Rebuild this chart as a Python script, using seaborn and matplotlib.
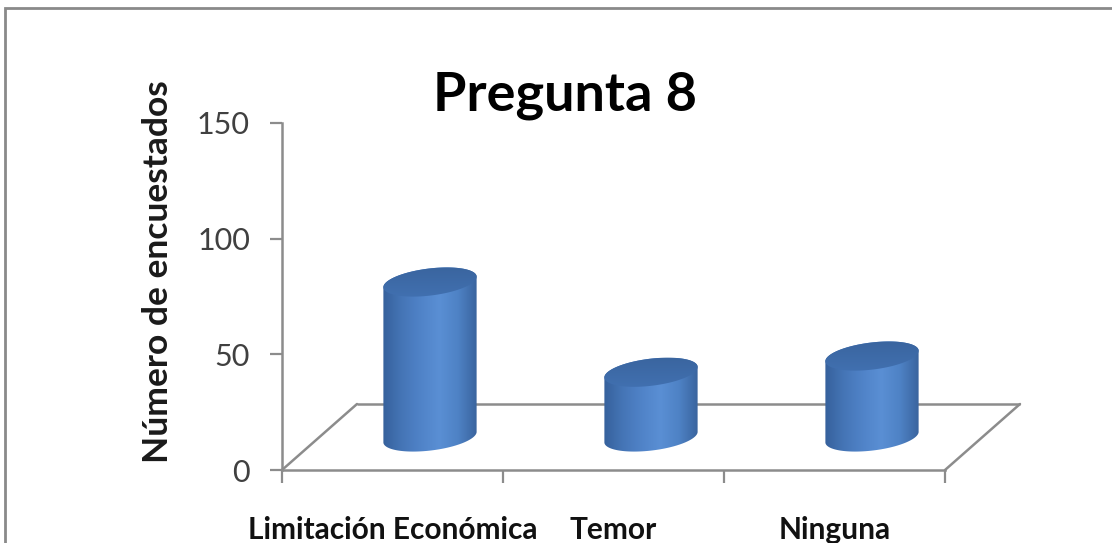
import numpy as np
import matplotlib
matplotlib.use("Agg")
import matplotlib.pyplot as plt
import seaborn as sns
from matplotlib import transforms as mtrans
from matplotlib.patches import PathPatch, Rectangle
from matplotlib.path import Path
from matplotlib.lines import Line2D
from matplotlib.colors import LinearSegmentedColormap

# Survey answers for question 8
categories = ["Limitación Económica", "Temor", "Ninguna"]
respondents = [67, 28, 35]
y_ticks = [0, 50, 100, 150]
title_text = "Pregunta 8"
y_label = "Número de encuestados"

sns.set_theme(style="white")
plt.rcParams["font.family"] = ["Lato", "DejaVu Sans"]

DPI = 100
W, H = 1112, 543
fig = plt.figure(figsize=(W / DPI, H / DPI), dpi=DPI, facecolor="white")

# front plane of the oblique 3-D box, in pixels
left_px, right_px, bottom_px, top_px = 282, 945, 470, 123
ax = fig.add_axes([left_px / W, 1 - bottom_px / H,
                   (right_px - left_px) / W, (bottom_px - top_px) / H])
ax.set_facecolor("none")

sns.barplot(x=categories, y=respondents, ax=ax, width=0.425,
            color="#4f81bd", saturation=1, order=categories)
ax.set_xlim(-0.5, len(categories) - 0.5)
ax.set_ylim(y_ticks[0], y_ticks[-1])

grey = "#8c8c8c"
for s in ("top", "right"):
    ax.spines[s].set_visible(False)
for s in ("left", "bottom"):
    ax.spines[s].set_color(grey)
    ax.spines[s].set_linewidth(1.8)

ax.set_yticks(y_ticks)
ax.set_yticklabels([str(t) for t in y_ticks])
ax.tick_params(axis="y", direction="out", length=9, width=1.6, color=grey,
               labelsize=22, labelcolor="#404040", pad=14, left=True)
ax.set_xticks(range(len(categories)))
ax.set_xticklabels(categories, fontweight="bold")
ax.set_xticks(np.arange(-0.5, len(categories)), minor=True)
ax.tick_params(axis="x", which="major", length=0, pad=33, labelsize=21.5,
               labelcolor="#111111")
ax.tick_params(axis="x", which="minor", direction="out", length=9.5,
               width=1.6, color=grey, bottom=True)
ax.set_xlabel("")
ax.set_ylabel("")

# depth of the floor (inches at this dpi)
depth_x, depth_y = 0.75, 0.66

# floor outline: back edge and the two receding sides
back = ax.transData + mtrans.ScaledTranslation(depth_x, depth_y, fig.dpi_scale_trans)
ax.plot([-0.5, len(categories) - 0.5], [0, 0], color=grey, lw=1.8,
        transform=back, clip_on=False, zorder=1, solid_capstyle="butt")
for xe in (-0.5, len(categories) - 0.5):
    side = fig.dpi_scale_trans + mtrans.ScaledTranslation(xe, 0, ax.transData)
    ax.add_line(Line2D([0, depth_x], [0, depth_y], color=grey, lw=1.8,
                       transform=side, clip_on=False, zorder=1))

# cylinder shading
body_cmap = LinearSegmentedColormap.from_list(
    "body", ["#36619c", "#4575b6", "#5083c8", "#5a8fd4", "#4e82c5", "#3a649e"])
top_cmap = LinearSegmentedColormap.from_list("top", ["#3a659f", "#4170b0"])

fig.canvas.draw()
shift = np.array([depth_x * DPI / 2, depth_y * DPI / 2])
ell_b = 13.5            # half minor axis of the end faces, px
tilt = np.deg2rad(7)
rot = np.array([[np.cos(tilt), -np.sin(tilt)], [np.sin(tilt), np.cos(tilt)]])
ident = mtrans.IdentityTransform()

for bar in list(ax.patches):
    x0, w, v = bar.get_x(), bar.get_width(), bar.get_height()
    bar.set_visible(False)
    p_left = ax.transData.transform((x0, 0)) + shift
    p_right = ax.transData.transform((x0 + w, 0)) + shift
    p_top = ax.transData.transform((x0 + w / 2, v)) + shift
    a = (p_right[0] - p_left[0]) / 2
    c_bot = np.array([(p_left[0] + p_right[0]) / 2, p_left[1]])
    c_top = np.array([c_bot[0], p_top[1]])

    def arc(c, t0, t1, n=80):
        t = np.linspace(t0, t1, n)
        pts = np.stack([a * np.cos(t), ell_b * np.sin(t)], axis=1) @ rot.T
        return pts + c

    outline = np.vstack([arc(c_bot, np.pi, 2 * np.pi), arc(c_top, 0, np.pi)])
    outline = np.vstack([outline, outline[:1]])
    sil = PathPatch(Path(outline, closed=True), transform=ident,
                    facecolor="none", edgecolor="none")
    ax.add_patch(sil)

    grad = np.linspace(0, 1, 256)[None, :]
    lo = outline[:, 1].min(); hi = outline[:, 1].max()
    img = ax.imshow(grad, cmap=body_cmap, aspect="auto", interpolation="bilinear",
                    extent=[outline[:, 0].min(), outline[:, 0].max(), lo, hi],
                    transform=ident, zorder=3)
    img.set_clip_path(sil)

    top_pts = arc(c_top, 0, 2 * np.pi, 160)
    top_face = PathPatch(Path(top_pts, closed=True), transform=ident,
                         facecolor="none", edgecolor="none")
    ax.add_patch(top_face)
    tgrad = np.linspace(0, 1, 64)[:, None]
    timg = ax.imshow(tgrad, cmap=top_cmap, aspect="auto", interpolation="bilinear",
                     extent=[top_pts[:, 0].min(), top_pts[:, 0].max(),
                             top_pts[:, 1].max(), top_pts[:, 1].min()],
                     origin="lower", transform=ident, zorder=4)
    timg.set_clip_path(top_face)

ax.set_xlim(-0.5, len(categories) - 0.5)
ax.set_ylim(y_ticks[0], y_ticks[-1])

fig.text(565 / W, 1 - 111 / H, title_text, ha="center", va="baseline",
         fontsize=39, fontweight="bold", color="black")
fig.text(158 / W, 1 - 272 / H, y_label, ha="center", va="center",
         rotation=90, fontsize=25.5, fontweight="bold", color="#1a1a1a")

# chart frame
fig.patches.append(Rectangle((5 / W, -0.05), 1.2, 1.05 - 8 / H, transform=fig.transFigure,
                             facecolor="none", edgecolor="#8a8a8a", lw=2, zorder=0))

fig.savefig("out.png", dpi=DPI, facecolor="white")
